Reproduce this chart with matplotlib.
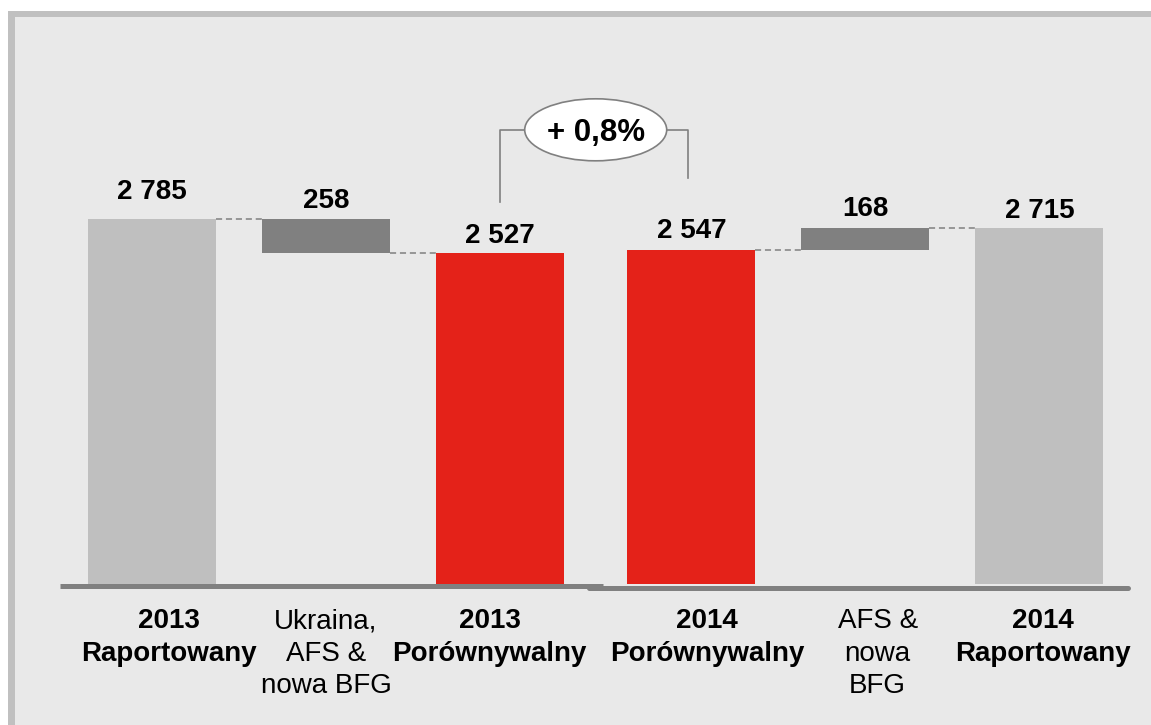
import numpy as np
import matplotlib.pyplot as plt
from matplotlib.patches import Rectangle, Ellipse

# ------------------------------------------------------------
# data
# ------------------------------------------------------------
categories = ["2013\nRaportowany", "Ukraina,\nAFS &\nnowa BFG", "2013\nPorównywalny",
              "2014\nPorównywalny", "AFS &\nnowa\nBFG", "2014\nRaportowany"]
values = [2785, 258, 2527, 2547, 168, 2715]
kinds = ["total", "down", "total", "total", "up", "total"]
bold_cat = [True, False, True, True, False, True]

# ------------------------------------------------------------
# layout / style
# ------------------------------------------------------------
W, H, DPI = 1151, 725, 100
x_pos = np.array([0, 1, 2, 3.1, 4.1, 5.1])
bar_w = 0.735
px_x = 174.0            # pixels per x unit
px_y = 365 / 2785       # pixels per value unit
x0_px, y0_px = 152, 584  # pixel of (x=0, value=0)

colors = {"total": "#bfbfbf", "down": "#808080", "up": "#808080", "cmp": "#e42219"}
bar_colors = [colors["total"], colors["down"], colors["cmp"], colors["cmp"], colors["up"], colors["total"]]
label_gap_px = [20, 11, 10, 12, 12, 10]
cat_dx = [0.1, 0.0, -0.06, 0.09, 0.07, 0.02]
FS = 20

plt.rcParams["font.family"] = ["Liberation Sans", "DejaVu Sans"]

fig = plt.figure(figsize=(W / DPI, H / DPI), dpi=DPI, facecolor="white")

# frame
fig.patches.append(Rectangle((8 / W, 0), 1, 1 - 11 / H, transform=fig.transFigure,
                             facecolor="#c0c0c0", edgecolor="none", zorder=-10))
fig.patches.append(Rectangle((15 / W, 0), 1, 1 - 17 / H, transform=fig.transFigure,
                             facecolor="#e9e9e9", edgecolor="none", zorder=-9))

ax = fig.add_axes([0, 0, 1, 1])
ax.set_zorder(1)
ax.set_facecolor("none")
ax.set_xlim(-x0_px / px_x, (W - x0_px) / px_x)
ax.set_ylim(-(H - y0_px) / px_y, y0_px / px_y)
ax.axis("off")

# waterfall bottoms
bottoms, tops = [], []
running = 0
for v, k in zip(values, kinds):
    if k == "total":
        b, t = 0, v
        running = v
    elif k == "down":
        b, t = running - v, running
        running = running - v
    else:
        b, t = running, running + v
        running = running + v
    bottoms.append(b)
    tops.append(t)
heights = np.array(tops) - np.array(bottoms)

ax.bar(x_pos, heights, bottom=bottoms, width=bar_w, color=bar_colors, zorder=2)

# dashed connectors (within each half)
pairs = [(0, 1, values[0]), (1, 2, values[2]), (3, 4, values[3]), (4, 5, values[5])]
for i, j, lvl in pairs:
    ax.plot([x_pos[i] + bar_w / 2, x_pos[j] - bar_w / 2], [lvl, lvl],
            color="#808080", lw=1.1, ls=(0, (4, 2.5)), zorder=1)

# value labels
for i, (x, t) in enumerate(zip(x_pos, tops)):
    txt = f"{values[i]:,}".replace(",", " ")
    ax.annotate(txt, (x, t), xytext=(0, label_gap_px[i] * 72 / DPI), textcoords="offset points",
                ha="center", va="baseline", fontsize=FS, fontweight="bold", color="black")

# category labels
for i, (x, c) in enumerate(zip(x_pos, categories)):
    ax.text(x + cat_dx[i], -24 / px_y, c, ha="center", va="top", fontsize=FS,
            fontweight="bold" if bold_cat[i] else "normal", linespacing=1.33, color="black")

# base lines (two halves)
ax.plot([x_pos[0] - 0.53, x_pos[2] + 0.59], [-15, -15], color="#808080", lw=3.6,
        solid_capstyle="butt", zorder=3)
ax.plot([x_pos[3] - 0.59, x_pos[5] + 0.51], [-30, -30], color="#808080", lw=3.6,
        solid_capstyle="round", zorder=3)

# growth bracket
growth = (values[3] / values[2] - 1) * 100
mid = (x_pos[2] + x_pos[3]) / 2
ell_w, ell_h = 142 / px_x, 62 / px_y
bracket_y = values[2] + 123 / px_y
left_bot = values[2] + 51 / px_y
right_bot = values[3] + 72 / px_y
ax.plot([x_pos[2], x_pos[2], mid - ell_w / 2], [left_bot, bracket_y, bracket_y],
        color="#808080", lw=1.2, zorder=3)
ax.plot([mid + ell_w / 2, x_pos[3] - 0.02, x_pos[3] - 0.02], [bracket_y, bracket_y, right_bot],
        color="#808080", lw=1.2, zorder=3)
ax.add_patch(Ellipse((mid, bracket_y), ell_w, ell_h, facecolor="white",
                     edgecolor="#808080", lw=1.2, zorder=4))
ax.text(mid, bracket_y, f"+ {growth:.1f}%".replace(".", ","), ha="center", va="center_baseline",
        fontsize=22.5, fontweight="bold", zorder=5)

fig.savefig("out.png", dpi=DPI)
